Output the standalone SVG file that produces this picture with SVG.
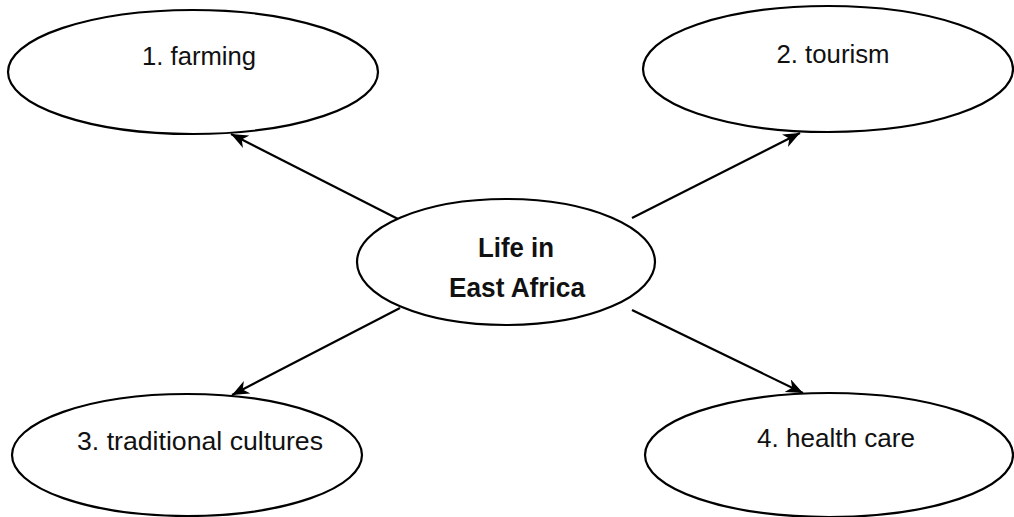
<svg xmlns="http://www.w3.org/2000/svg" width="1014" height="517" viewBox="0 0 1014 517">
<style>
.node ellipse{fill:#fff;stroke:#000;stroke-width:2.2}
.lbl{font-family:"Liberation Sans",Arial,sans-serif;font-size:26px;fill:#111;text-anchor:middle}
.bold{font-weight:bold;font-size:28px}
.conn line{stroke:#000;stroke-width:2.2;marker-end:url(#arr)}
</style>
<defs>
<marker id="arr" markerUnits="userSpaceOnUse" markerWidth="20" markerHeight="14" refX="17" refY="7" orient="auto">
<path d="M0,0 L17,7 L0,14 L5,7 z" fill="#000"/>
</marker>
</defs>
<rect width="1014" height="517" fill="#fff"/>
<g class="conn">
<line x1="400" y1="220" x2="231" y2="134"/>
<line x1="632" y1="218" x2="800" y2="133"/>
<line x1="400" y1="308" x2="232" y2="395"/>
<line x1="632" y1="310" x2="803" y2="393"/>
</g>
<g id="center" class="node">
<ellipse cx="506" cy="262" rx="149" ry="63"/>
<text class="lbl bold" x="516" y="257" textLength="76" lengthAdjust="spacingAndGlyphs">Life in</text>
<text class="lbl bold" x="517" y="297" textLength="136" lengthAdjust="spacingAndGlyphs">East Africa</text>
</g>
<g id="farming" class="node">
<ellipse cx="193" cy="72" rx="185" ry="62"/>
<text class="lbl" x="199" y="65" textLength="114" lengthAdjust="spacingAndGlyphs">1. farming</text>
</g>
<g id="tourism" class="node">
<ellipse cx="828" cy="69" rx="185" ry="63"/>
<text class="lbl" x="833" y="63" textLength="113" lengthAdjust="spacingAndGlyphs">2. tourism</text>
</g>
<g id="cultures" class="node">
<ellipse cx="187" cy="455" rx="175" ry="61"/>
<text class="lbl" x="200" y="450" textLength="246" lengthAdjust="spacingAndGlyphs">3. traditional cultures</text>
</g>
<g id="health" class="node">
<ellipse cx="829" cy="455" rx="184" ry="62"/>
<text class="lbl" x="836" y="447" textLength="158" lengthAdjust="spacingAndGlyphs">4. health care</text>
</g>
</svg>
